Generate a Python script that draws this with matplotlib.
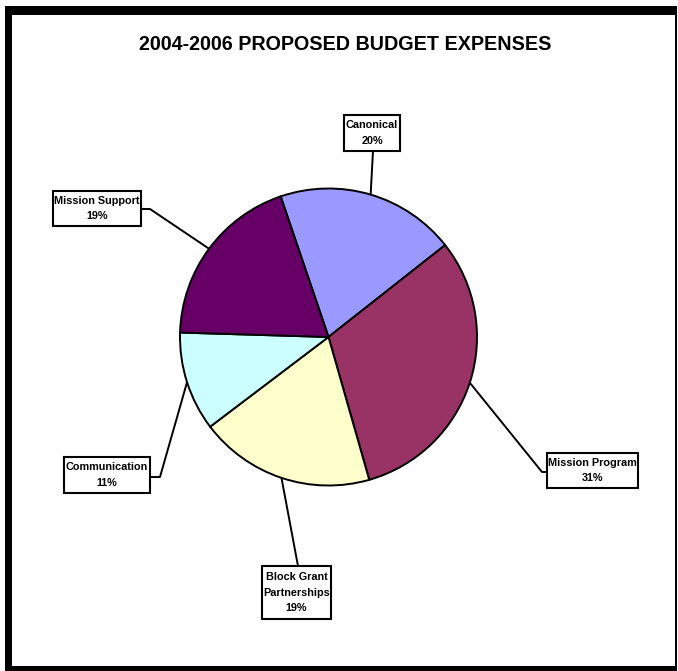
import matplotlib
matplotlib.use("Agg")
import matplotlib.pyplot as plt
from matplotlib.patches import Rectangle
import numpy as np

categories = ["Canonical", "Mission Program", "Block Grant\nPartnerships", "Communication", "Mission Support"]
values = [19.6, 31.2, 19.1, 10.8, 19.3]
colors = ["#9999FF", "#993366", "#FFFFCC", "#CCFFFF", "#660066"]
title = "2004-2006 PROPOSED BUDGET EXPENSES"

W, H = 678, 671
fig = plt.figure(figsize=(W / 100, H / 100), dpi=100)
ax = fig.add_axes([0, 0, 1, 1])

def Y(y):
    return H - y

cx, cy, r = 328.5, Y(337), 148.5
wedges, _ = ax.pie(values, colors=colors, startangle=108.8, counterclock=False,
                   center=(cx, cy), radius=r, frame=True,
                   wedgeprops=dict(edgecolor="black", linewidth=1.4))
ax.set_xlim(0, W)
ax.set_ylim(0, H)
ax.set_aspect("auto")
ax.axis("off")

# frame
fk = dict(facecolor="black", edgecolor="none", zorder=10)
ax.add_patch(Rectangle((5, Y(15)), 672, 9, **fk))             # top
ax.add_patch(Rectangle((5, Y(672)), 7, 666, **fk))            # left
ax.add_patch(Rectangle((5, Y(672)), 672, 6, **fk))            # bottom
ax.add_patch(Rectangle((675, Y(672)), 2, 666, **fk))          # right

ax.text(345.5, Y(45), title, ha="center", va="center", fontsize=14.2,
        fontweight="bold", family="Liberation Sans")

# label boxes (x0, x1, y0, y1 in pixel coords from top), attach and elbow points
boxes = [
    dict(box=(344, 400, 115, 151), attach=(373, 151), elbow=None),
    dict(box=(547, 638, 453, 488), attach=(547, 472), elbow=(542, 472)),
    dict(box=(262, 331, 566, 619), attach=(298, 566), elbow=None),
    dict(box=(64, 150, 457, 493), attach=(150, 477), elbow=(160, 477)),
    dict(box=(53, 141, 191, 226), attach=(141, 209), elbow=(150, 209)),
]

total = sum(values)
for w, cat, v, b in zip(wedges, categories, values, boxes):
    mid = np.deg2rad((w.theta1 + w.theta2) / 2)
    px, py = cx + r * np.cos(mid), cy + r * np.sin(mid)
    pts = [(px, py)]
    if b["elbow"] is not None:
        pts.append((b["elbow"][0], Y(b["elbow"][1])))
    pts.append((b["attach"][0], Y(b["attach"][1])))
    xs, ys = zip(*pts)
    ax.plot(xs, ys, color="black", lw=1.4, zorder=3, solid_capstyle="butt")
    x0, x1, y0, y1 = b["box"]
    ax.add_patch(Rectangle((x0, Y(y1)), x1 - x0, y1 - y0, facecolor="white",
                           edgecolor="black", linewidth=1.5, zorder=4))
    label = f"{cat}\n{round(v / total * 100):.0f}%"
    ax.text((x0 + x1) / 2, Y((y0 + y1) / 2), label, ha="center", va="center",
            fontsize=7.8, fontweight="bold", family="Liberation Sans",
            linespacing=1.7, zorder=5)

fig.savefig("out.png", dpi=100)
